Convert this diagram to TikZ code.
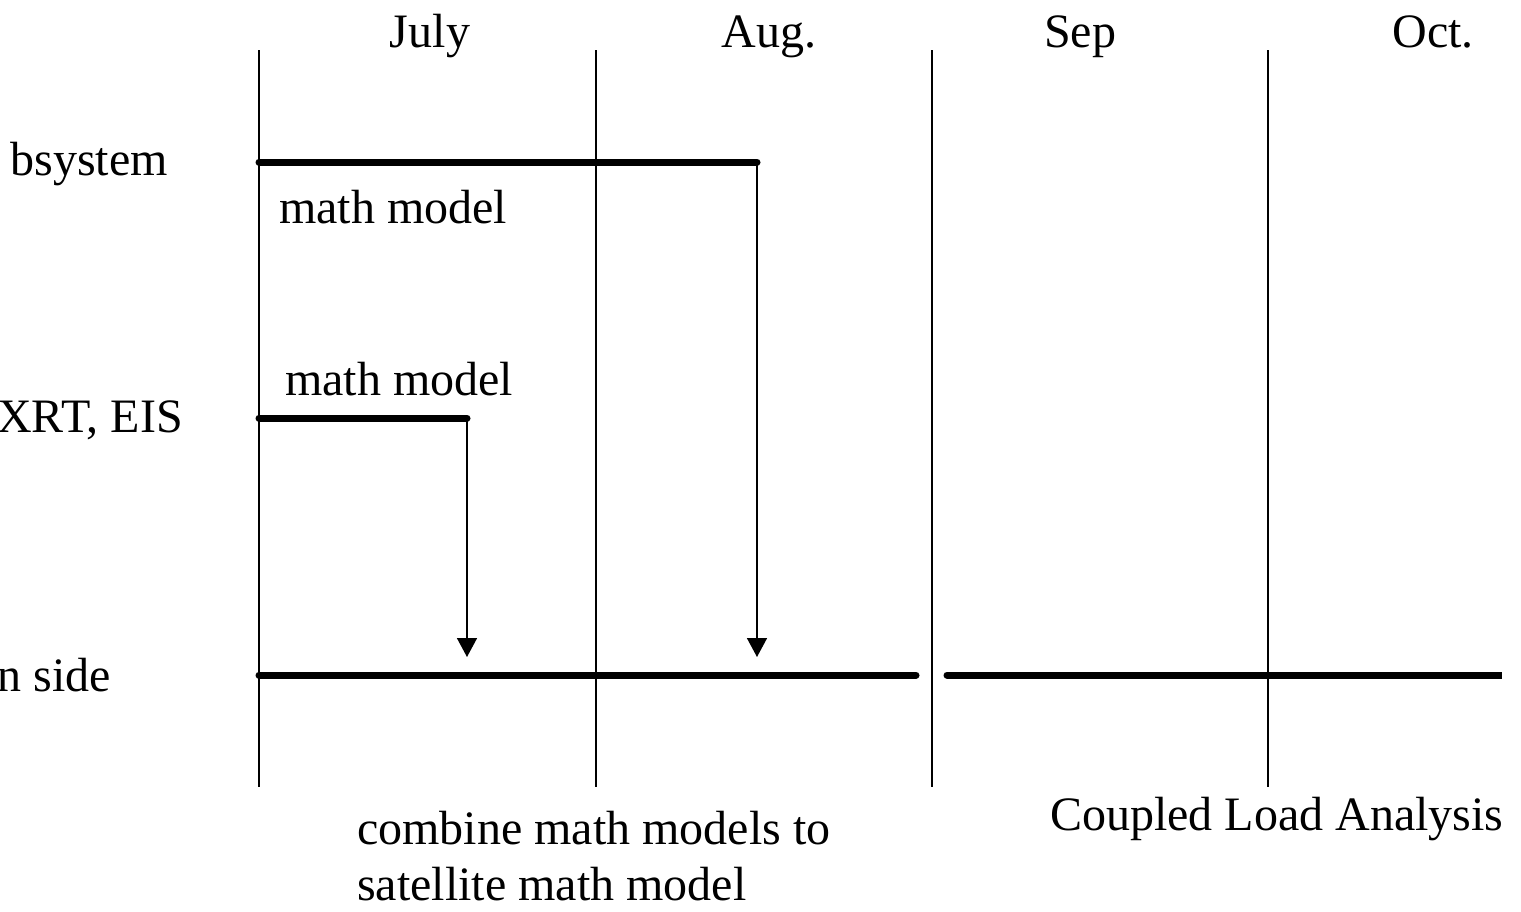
\documentclass[tikz,border=0pt]{standalone}
\usepackage{fontspec}
\setmainfont{Liberation Serif}
\usetikzlibrary{arrows.meta}
\begin{document}
\begin{tikzpicture}[x=1pt,y=-1pt,
  lbl/.style={inner sep=0pt,font=\fontsize{48}{56}\selectfont},
  grid/.style={line width=1.6pt},
  bar/.style={line width=7pt,line cap=round},
  drop/.style={line width=1.6pt,-{Triangle[width=20pt,length=19pt]}}]
\useasboundingbox (0,0) rectangle (1521,911);
% month columns
\foreach \x/\n in {259/a,596/b,932/c,1268/d}{
  \coordinate (top\n) at (\x,50);
  \coordinate (bot\n) at (\x,787);
  \draw[grid] (top\n) -- (bot\n);
}
% month headings
\node[lbl,anchor=base] (jul) at (430,47) {July};
\node[lbl,anchor=base] (aug) at (769,47) {Aug.};
\node[lbl,anchor=base] (sep) at (1080,47) {Sep};
\node[lbl,anchor=base] (oct) at (1433,47) {Oct.};
% row labels
\node[lbl,anchor=base east] (r1) at (168,175) {bsystem};
\node[lbl,anchor=base east] (r2) at (183,432) {XRT, EIS};
\node[lbl,anchor=base east] (r3) at (111,691) {n side};
% schedule bars
\coordinate (s1) at (259,162); \coordinate (e1) at (757,162);
\coordinate (s2) at (259,418); \coordinate (e2) at (467,418);
\coordinate (s3) at (259,675); \coordinate (e3) at (916,675);
\coordinate (s4) at (947,675); \coordinate (e4) at (1502,675);
\draw[bar] (s1) -- (e1);
\draw[bar] (s2) -- (e2);
\draw[bar] (s3) -- (e3);
\draw[bar,line cap=butt] (s4) -- (e4);
\draw[bar] (s4) -- ++(1,0);
\node[lbl,anchor=base west] (m1) at (279,223) {math model};
\node[lbl,anchor=base west] (m2) at (285,395) {math model};
% hand-over arrows
\coordinate (t2) at (467,657);
\coordinate (t1) at (757,657);
\draw[drop] (e2) -- (t2);
\draw[drop] (e1) -- (t1);
% notes (base anchor sits on the last line)
\node[lbl,anchor=base west,align=left] (n1) at (357,900) {combine math models to\\satellite math model};
\node[lbl,anchor=base west] (n2) at (1050,830) {Coupled Load Analysis};
\end{tikzpicture}
\end{document}
